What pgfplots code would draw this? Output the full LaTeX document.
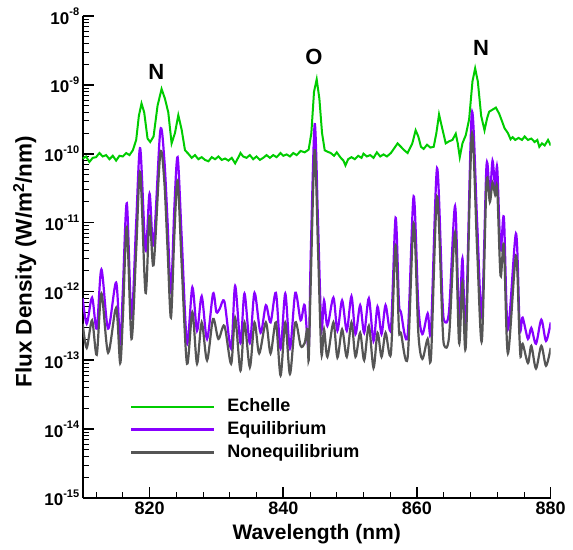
\documentclass[border=0pt]{standalone}
\usepackage{fontspec}
\setmainfont{Liberation Sans}
\usepackage{pgfplots}
\pgfplotsset{compat=1.18}

\definecolor{echgreen}{RGB}{0,204,0}
\definecolor{eqpurple}{RGB}{136,0,255}
\definecolor{neqgrey}{RGB}{85,85,85}

\newcommand{\dec}[1]{10\raisebox{8.5bp}{\fontsize{11bp}{11bp}\selectfont #1}}

% values are log10 of the flux density in W/m^2/nm
\begin{document}
\begin{tikzpicture}
\begin{axis}[
    at={(0,0)}, anchor=south west,
    scale only axis,
    width=468bp, height=482bp,
    xmin=810, xmax=880,
    ymin=-15, ymax=-8,
    axis x line=bottom, axis y line=left,
    axis line style={-, line width=2bp},
    tick align=inside,
    xtick={820,840,860,880},
    xticklabels={820,840,860,880},
    minor xtick={812,816,824,828,832,836,844,848,852,856,864,868,872,876},
    ytick={-15,-14,-13,-12,-11,-10,-9,-8},
    yticklabels={\dec{-15},\dec{-14},\dec{-13},\dec{-12},\dec{-11},\dec{-10},\dec{-9},\dec{-8}},
    minor ytick={-14.699,-14.523,-14.398,-14.301,-14.222,-14.155,-14.097,-14.046,
                 -13.699,-13.523,-13.398,-13.301,-13.222,-13.155,-13.097,-13.046,
                 -12.699,-12.523,-12.398,-12.301,-12.222,-12.155,-12.097,-12.046,
                 -11.699,-11.523,-11.398,-11.301,-11.222,-11.155,-11.097,-11.046,
                 -10.699,-10.523,-10.398,-10.301,-10.222,-10.155,-10.097,-10.046,
                 -9.699,-9.523,-9.398,-9.301,-9.222,-9.155,-9.097,-9.046,
                 -8.699,-8.523,-8.398,-8.301,-8.222,-8.155,-8.097,-8.046},
    major tick length=11bp, minor tick length=6bp,
    every major tick/.style={line width=1.6bp, black},
    every minor tick/.style={line width=0.9bp, black},
    xticklabel style={font=\bfseries\fontsize{18bp}{20bp}\selectfont},
    yticklabel style={font=\bfseries\fontsize{17bp}{20bp}\selectfont},
    xlabel={Wavelength (nm)},
    ylabel={Flux Density (W/m\textsuperscript{2}/nm)},
    xlabel style={font=\bfseries\fontsize{21bp}{24bp}\selectfont,
        at={(axis description cs:0.5,-0.075)}, anchor=center},
    ylabel style={font=\bfseries\fontsize{22.5bp}{24bp}\selectfont,
        at={(axis description cs:-0.124,0.49)}, anchor=center},
    legend style={at={(axis description cs:0.101,0.212)}, anchor=north west,
        draw=none, fill=none, inner sep=0pt, row sep=2bp, column sep=10bp,
        font=\bfseries\fontsize{18bp}{20bp}\selectfont,
        nodes={inner sep=2bp, text height=13bp, text depth=4bp}},
    legend cell align=left,
    legend image code/.code={\draw[#1] (0bp,0bp) -- (83bp,0bp);},
]

% Echelle measurement
\addplot[echgreen, line width=2bp] coordinates {
(810.0,-10.07) (810.5,-10.04) (811.0,-10.12) (811.5,-10.06) (812.0,-10.05) (812.5,-9.99)
(813.0,-10.04) (813.5,-10.02) (814.0,-10.08) (814.5,-10.03) (815.0,-10.10) (815.5,-10.03)
(816.0,-10.04) (816.5,-9.99) (817.0,-10.02) (817.5,-9.95) (818.0,-9.80) (818.4,-9.45)
(818.8,-9.27) (819.2,-9.40) (819.7,-9.78) (820.1,-9.83) (820.6,-9.75) (821.2,-9.30)
(821.8,-9.06) (822.3,-9.20) (822.8,-9.40) (823.3,-9.85) (823.8,-9.70) (824.3,-9.44)
(824.8,-9.65) (825.3,-9.95) (825.8,-10.00) (826.3,-10.06) (826.8,-10.02) (827.3,-10.08)
(827.8,-10.05) (828.3,-10.09) (828.8,-10.11) (829.3,-10.05) (829.8,-10.08) (830.3,-10.04)
(830.8,-10.09) (831.3,-10.07) (831.8,-10.10) (832.3,-10.06) (832.8,-10.14) (833.3,-10.05)
(833.6,-9.99) (834.0,-10.04) (834.5,-10.06) (835.0,-10.02) (835.5,-10.08) (836.0,-10.04)
(836.5,-10.09) (837.0,-10.06) (837.5,-10.02) (838.0,-10.06) (838.5,-10.02) (839.0,-10.05)
(839.6,-9.99) (840.0,-10.03) (840.5,-10.01) (841.0,-10.04) (841.5,-9.99) (842.0,-10.02)
(842.6,-9.96) (843.2,-9.98) (843.8,-9.94) (844.2,-9.70) (844.6,-9.10) (845.0,-8.92)
(845.4,-9.20) (845.8,-9.70) (846.2,-9.95) (846.6,-9.97) (847.1,-9.99) (847.6,-10.03)
(848.0,-9.98) (848.6,-10.06) (849.0,-10.10) (849.3,-10.17) (849.7,-10.08) (850.2,-10.05)
(850.7,-10.08) (851.2,-10.03) (851.7,-10.06) (852.0,-10.00) (852.5,-10.04) (853.0,-10.02)
(853.5,-10.06) (854.0,-9.98) (854.5,-10.04) (855.0,-10.01) (855.5,-10.04) (856.1,-9.99)
(856.6,-9.92) (857.1,-9.85) (857.6,-9.90) (858.1,-9.95) (858.6,-9.99) (859.3,-9.85)
(859.8,-9.66) (860.2,-9.75) (860.6,-9.90) (861.0,-9.93) (861.5,-9.87) (862.0,-9.91)
(862.5,-9.90) (862.9,-9.70) (863.3,-9.43) (863.7,-9.60) (864.3,-9.85) (864.8,-9.82)
(865.3,-9.80) (865.8,-9.71) (866.1,-9.85) (866.4,-10.05) (866.8,-9.85) (867.3,-9.73)
(867.8,-9.50) (868.3,-8.95) (868.7,-8.76) (869.1,-8.95) (869.6,-9.45) (870.1,-9.66)
(870.5,-9.48) (870.8,-9.39) (871.3,-9.36) (871.8,-9.33) (872.3,-9.42) (872.8,-9.55)
(873.1,-9.63) (873.6,-9.70) (874.0,-9.79) (874.3,-9.76) (874.7,-9.80) (875.2,-9.77)
(875.7,-9.80) (876.1,-9.75) (876.6,-9.80) (877.1,-9.78) (877.6,-9.83) (878.0,-9.80)
(878.3,-9.90) (878.7,-9.85) (879.1,-9.88) (879.6,-9.80) (880.0,-9.88)
};
\addlegendentry{Echelle}

% Equilibrium
\addplot[eqpurple, line width=2.2bp, smooth, tension=0.5] coordinates {
(810.0,-12.10) (810.6,-12.47) (811.4,-12.09) (812.1,-12.54) (812.8,-11.68) (813.8,-12.54)
(815.0,-11.87) (815.6,-12.75) (816.0,-12.00) (816.6,-10.72) (817.3,-12.38) (818.0,-11.00)
(818.6,-9.92) (819.4,-11.40) (820.0,-10.58) (820.6,-11.33) (821.6,-9.67) (822.2,-10.07)
(822.7,-11.00) (823.2,-12.02) (823.7,-10.80) (824.2,-10.05) (824.8,-11.20) (825.6,-12.75)
(826.4,-11.94) (827.1,-12.57) (827.8,-12.07) (828.6,-12.69) (829.5,-12.03) (830.0,-12.30)
(830.5,-12.25) (831.2,-12.15) (832.2,-12.83) (832.8,-11.92) (833.6,-12.75) (834.2,-12.03)
(835.0,-12.75) (835.7,-12.02) (836.6,-12.60) (837.4,-12.20) (838.1,-12.45) (838.9,-12.02)
(839.6,-12.83) (840.3,-12.03) (841.0,-12.83) (841.8,-12.02) (842.6,-12.42) (843.2,-12.20)
(843.8,-12.83) (844.1,-11.50) (844.7,-9.57) (845.2,-11.00) (845.7,-12.53) (846.1,-12.13)
(846.6,-12.50) (847.5,-12.09) (848.1,-12.57) (848.8,-12.13) (849.5,-12.57) (850.2,-12.07)
(850.8,-12.62) (851.5,-12.20) (852.1,-12.60) (852.8,-12.10) (853.5,-12.72) (854.1,-12.22)
(854.7,-12.62) (855.3,-12.20) (856.1,-12.54) (856.8,-10.93) (857.3,-12.16) (857.6,-12.30)
(858.6,-12.64) (859.5,-10.62) (860.2,-12.20) (860.8,-12.62) (861.6,-12.32) (862.1,-12.55)
(863.0,-10.21) (863.8,-12.10) (864.1,-12.43) (864.8,-12.28) (865.7,-10.76) (866.3,-12.43)
(866.8,-11.52) (867.3,-12.53) (868.2,-9.41) (869.0,-11.00) (869.7,-12.35) (870.4,-10.17)
(870.9,-10.60) (871.3,-10.10) (871.7,-10.50) (872.0,-10.20) (872.5,-11.40) (873.0,-10.93)
(873.6,-12.55) (874.8,-11.16) (875.3,-12.38) (875.5,-12.57) (875.8,-12.38) (876.6,-12.69)
(877.1,-12.53) (877.8,-12.76) (878.6,-12.41) (879.3,-12.72) (880.0,-12.45)
};
\addlegendentry{Equilibrium}

% Nonequilibrium
\addplot[neqgrey, line width=2.2bp, smooth, tension=0.5] coordinates {
(810.0,-12.47) (810.6,-12.82) (811.4,-12.42) (812.1,-12.92) (812.8,-12.03) (813.8,-12.89)
(815.0,-12.24) (815.6,-13.04) (816.0,-12.40) (816.6,-11.07) (817.3,-12.69) (818.0,-11.40)
(818.6,-10.27) (819.4,-12.02) (820.0,-10.90) (820.6,-11.62) (821.6,-10.00) (822.2,-10.39)
(822.7,-11.40) (823.2,-12.38) (823.7,-11.20) (824.2,-10.39) (824.8,-11.60) (825.6,-13.05)
(826.4,-12.30) (827.1,-13.05) (827.8,-12.45) (828.6,-13.00) (829.5,-12.40) (830.3,-12.69)
(831.2,-12.50) (832.2,-13.05) (832.8,-12.38) (833.6,-13.15) (834.2,-12.45) (835.0,-13.10)
(835.7,-12.45) (836.4,-12.90) (837.4,-12.45) (838.1,-12.90) (838.9,-12.45) (839.6,-13.22)
(840.3,-12.45) (841.0,-13.20) (841.8,-12.45) (842.6,-12.79) (843.2,-12.75) (843.6,-12.55)
(843.8,-13.00) (844.1,-11.90) (844.7,-9.95) (845.2,-11.40) (845.7,-12.90) (846.1,-12.55)
(846.6,-12.95) (847.5,-12.45) (848.1,-12.96) (848.8,-12.55) (849.5,-12.95) (850.2,-12.45)
(850.8,-12.95) (851.5,-12.60) (852.1,-13.00) (852.8,-12.50) (853.5,-13.11) (854.1,-12.60)
(854.7,-12.95) (855.3,-12.60) (856.1,-12.90) (856.8,-11.33) (857.3,-12.55) (857.6,-12.60)
(858.6,-12.96) (859.5,-11.01) (860.2,-12.60) (860.8,-12.98) (861.6,-12.69) (862.1,-12.95)
(863.0,-10.62) (863.8,-12.45) (864.1,-12.79) (864.8,-12.65) (865.7,-11.14) (866.3,-12.75)
(866.8,-11.87) (867.3,-12.80) (868.2,-9.72) (869.0,-11.40) (869.7,-12.72) (870.4,-10.42)
(870.9,-10.70) (871.3,-10.42) (871.7,-10.60) (872.0,-10.50) (872.5,-11.77) (873.0,-11.33)
(873.6,-12.90) (874.8,-11.48) (875.3,-12.60) (875.5,-12.95) (875.8,-12.76) (876.6,-13.04)
(877.1,-12.79) (877.8,-13.12) (878.6,-12.79) (879.3,-13.08) (880.0,-12.82)
};
\addlegendentry{Nonequilibrium}

\node[font=\bfseries\fontsize{22bp}{24bp}\selectfont] at (axis cs:821.0,-8.815) {N};
\node[font=\bfseries\fontsize{22bp}{24bp}\selectfont] at (axis cs:844.6,-8.60) {O};
\node[font=\bfseries\fontsize{22bp}{24bp}\selectfont] at (axis cs:869.6,-8.47) {N};
\end{axis}
\pgfresetboundingbox
\useasboundingbox (-82.7bp,-52bp) rectangle (490.3bp,498bp);
\end{tikzpicture}
\end{document}
